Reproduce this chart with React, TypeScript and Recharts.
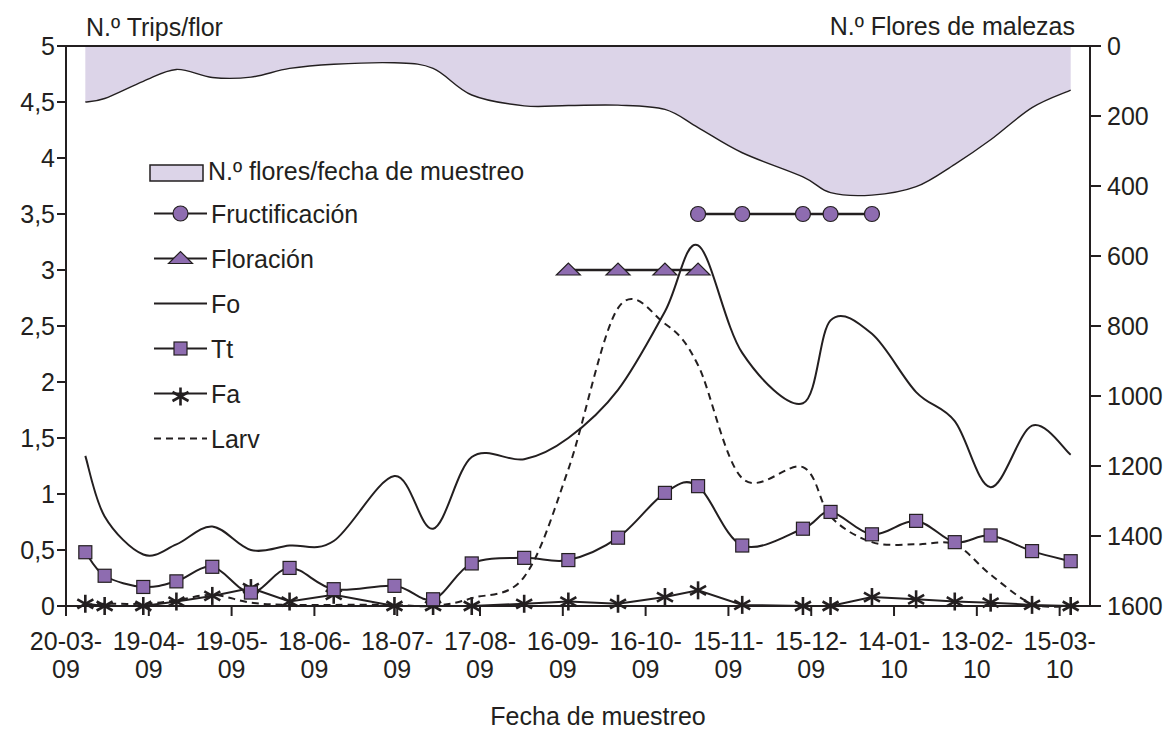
import React from 'react'
import {
  ComposedChart,
  Area,
  Line,
  XAxis,
  YAxis,
  ReferenceLine,
} from 'recharts'

const INK = '#231f20'
const PURPLE = '#8e6cb0'
const LAVENDER = '#dcd4e8'
const FONT = '"Liberation Sans", Arial, Helvetica, sans-serif'

// fechas de muestreo (dd-mm-yy)
const sampleDates = [
  '27-03-09', '03-04-09', '17-04-09', '29-04-09', '12-05-09', '26-05-09', '09-06-09',
  '25-06-09', '17-07-09', '31-07-09', '14-08-09', '02-09-09', '18-09-09', '06-10-09',
  '23-10-09', '04-11-09', '20-11-09', '12-12-09', '22-12-09', '06-01-10', '22-01-10',
  '05-02-10', '18-02-10', '05-03-10', '19-03-10',
]

const tickLabels = [
  '20-03-09', '19-04-09', '19-05-09', '18-06-09', '18-07-09', '17-08-09', '16-09-09',
  '16-10-09', '15-11-09', '15-12-09', '14-01-10', '13-02-10', '15-03-10',
]

const flores = [160, 150, 101, 67, 90, 89, 64, 52, 48, 64, 140, 171, 170, 169, 181, 233, 305, 374, 419, 426, 402, 338, 268, 176, 126]
const fo = [1.34, 0.8, 0.46, 0.55, 0.71, 0.5, 0.54, 0.58, 1.16, 0.69, 1.33, 1.31, 1.5, 1.93, 2.63, 3.22, 2.26, 1.81, 2.55, 2.43, 1.91, 1.65, 1.06, 1.61, 1.35]
const tt = [0.48, 0.27, 0.17, 0.22, 0.35, 0.12, 0.34, 0.15, 0.18, 0.06, 0.38, 0.43, 0.41, 0.61, 1.01, 1.07, 0.54, 0.69, 0.84, 0.64, 0.76, 0.57, 0.63, 0.49, 0.4]
const fa = [0.02, 0, 0, 0.04, 0.09, 0.16, 0.04, 0.1, 0, 0, 0, 0.02, 0.04, 0.02, 0.08, 0.14, 0.01, 0, 0, 0.08, 0.06, 0.04, 0.03, 0.01, 0]
const larv = [0.01, 0.02, 0.02, 0.05, 0.1, 0.03, 0.01, 0.01, 0.01, 0, 0.07, 0.26, 1.22, 2.66, 2.52, 2.15, 1.14, 1.24, 0.8, 0.57, 0.55, 0.55, 0.28, 0.02, 0]
// fenología: fechas con floración / fructificación
const floracion = ['18-09-09', '06-10-09', '23-10-09', '04-11-09']
const fructificacion = ['04-11-09', '20-11-09', '12-12-09', '22-12-09', '06-01-10']
const FLOR_Y = 3
const FRUCT_Y = 3.5

const leftTicks = [0, 0.5, 1, 1.5, 2, 2.5, 3, 3.5, 4, 4.5, 5]
const rightTicks = [0, 200, 400, 600, 800, 1000, 1200, 1400, 1600]

const START = '20-03-09'
const toDay = (s: string) => {
  const [d, m, y] = s.split('-').map(Number)
  const [d0, m0, y0] = START.split('-').map(Number)
  return Math.round((Date.UTC(2000 + y, m - 1, d) - Date.UTC(2000 + y0, m0 - 1, d0)) / 86400000)
}

const rows = sampleDates.map((s, i) => ({
  day: toDay(s),
  flores: flores[i],
  fo: fo[i],
  tt: tt[i],
  fa: fa[i],
  larv: larv[i],
  flor: floracion.includes(s) ? FLOR_Y : null,
  fruct: fructificacion.includes(s) ? FRUCT_Y : null,
}))

const tickDays = tickLabels.map(toDay)

// suavizado tipo Excel (Catmull-Rom)
function excelCurve(context: any) {
  let pts: number[][] = []
  let flag = NaN
  return {
    areaStart() { flag = 0 },
    areaEnd() { flag = NaN },
    lineStart() { pts = [] },
    point(x: number, y: number) { pts.push([+x, +y]) },
    lineEnd() {
      const n = pts.length
      if (n) {
        if (flag) context.lineTo(pts[0][0], pts[0][1])
        else context.moveTo(pts[0][0], pts[0][1])
        for (let i = 0; i < n - 1; i++) {
          const p0 = pts[i > 0 ? i - 1 : i]
          const p1 = pts[i]
          const p2 = pts[i + 1]
          const p3 = pts[i + 2 < n ? i + 2 : i + 1]
          context.bezierCurveTo(
            p1[0] + (p2[0] - p0[0]) / 6, p1[1] + (p2[1] - p0[1]) / 6,
            p2[0] - (p3[0] - p1[0]) / 6, p2[1] - (p3[1] - p1[1]) / 6,
            p2[0], p2[1],
          )
        }
      }
      if (flag) context.closePath()
      flag = 1 - flag
    },
  }
}

const Square = ({ cx, cy, s = 13 }: any) => (
  <rect x={cx - s / 2} y={cy - s / 2} width={s} height={s} fill={PURPLE} stroke={INK} strokeWidth={1.2} />
)
const Circ = ({ cx, cy }: any) => <circle cx={cx} cy={cy} r={7.5} fill={PURPLE} stroke={INK} strokeWidth={1.2} />
const Tri = ({ cx, cy }: any) => (
  <path d={`M${cx - 12},${cy + 5} L${cx},${cy - 7} L${cx + 12},${cy + 5} Z`} fill={PURPLE} stroke={INK} strokeWidth={1.2} />
)
const Star = ({ cx, cy }: any) => (
  <g stroke={INK} strokeWidth={2.6}>
    <line x1={cx} y1={cy - 9} x2={cx} y2={cy + 9} />
    <line x1={cx - 8} y1={cy - 4.5} x2={cx + 8} y2={cy + 4.5} />
    <line x1={cx - 8} y1={cy + 4.5} x2={cx + 8} y2={cy - 4.5} />
  </g>
)

const dotOf = (Shape: any) => (props: any) => {
  const { cx, cy, value, index } = props
  if (cx == null || cy == null || value == null) return <g key={`e-${index}`} />
  return <Shape key={`d-${index}`} cx={cx} cy={cy} />
}

const DateTick = ({ x, y, payload }: any) => {
  const i = tickDays.indexOf(payload.value)
  const label = tickLabels[i] ?? ''
  const top = label.slice(0, 6)
  const bottom = label.slice(6)
  return (
    <text x={x} y={y} textAnchor="middle" fontSize={25} fill={INK} fontFamily={FONT}>
      <tspan x={x} dy={32}>{top}</tspan>
      <tspan x={x} dy={28}>{bottom}</tspan>
    </text>
  )
}

const legendItems = [
  { name: 'N.º flores/fecha de muestreo', kind: 'area' },
  { name: 'Fructificación', kind: 'circle' },
  { name: 'Floración', kind: 'tri' },
  { name: 'Fo', kind: 'line' },
  { name: 'Tt', kind: 'square' },
  { name: 'Fa', kind: 'star' },
  { name: 'Larv', kind: 'dash' },
]

function LegendOverlay() {
  return (
    <svg width={1170} height={731} style={{ position: 'absolute', left: 0, top: 0, pointerEvents: 'none' }} fontFamily={FONT}>
      <text x={86} y={36} fontSize={25} fill={INK}>N.º Trips/flor</text>
      <text x={1075} y={35} fontSize={25} fill={INK} textAnchor="end">N.º Flores de malezas</text>
      <text x={598} y={725} fontSize={25} fill={INK} textAnchor="middle">Fecha de muestreo</text>
      {legendItems.map((it, i) => {
        if (it.kind === 'area') {
          return (
            <g key={it.name}>
              <rect x={150} y={165} width={53} height={16} fill={LAVENDER} stroke={INK} strokeWidth={1.5} />
              <text x={208} y={180} fontSize={25} fill={INK}>{it.name}</text>
            </g>
          )
        }
        const ly = 213.5 + (i - 1) * 45
        const cx = 180.5
        return (
          <g key={it.name}>
            <line x1={154} x2={207} y1={ly} y2={ly} stroke={INK} strokeWidth={2} strokeDasharray={it.kind === 'dash' ? '7 5' : undefined} />
            {it.kind === 'circle' && <Circ cx={cx} cy={ly} />}
            {it.kind === 'tri' && <Tri cx={cx} cy={ly} />}
            {it.kind === 'square' && <Square cx={cx} cy={ly} />}
            {it.kind === 'star' && <Star cx={cx} cy={ly + 3} />}
            <text x={211} y={ly + 9} fontSize={25} fill={INK}>{it.name}</text>
          </g>
        )
      })}
    </svg>
  )
}

export default function App() {
  const axisStyle = { stroke: INK, strokeWidth: 2 }
  return (
    <div style={{ position: 'absolute', left: 0, top: 0, width: 1170, height: 731, background: '#fff', fontFamily: FONT }}>
      <ComposedChart
        width={1170}
        height={731}
        data={rows}
        margin={{ top: 46, right: 0, bottom: 0, left: 0 }}
        style={{ fontFamily: FONT }}
      >
        <XAxis
          dataKey="day"
          type="number"
          domain={[0, 371]}
          ticks={tickDays}
          interval={0}
          tick={<DateTick />}
          tickSize={10}
          tickMargin={2}
          height={125}
          axisLine={axisStyle}
          tickLine={axisStyle}
          allowDataOverflow
        />
        <YAxis
          yAxisId="left"
          domain={[0, 5]}
          ticks={leftTicks}
          interval={0}
          width={66}
          tickSize={9}
          tickMargin={2}
          axisLine={axisStyle}
          tickLine={axisStyle}
          tick={{ fontSize: 25, fill: INK }}
          tickFormatter={(v: number) => String(v).replace('.', ',')}
        />
        <YAxis
          yAxisId="right"
          orientation="right"
          reversed
          domain={[0, 1600]}
          ticks={rightTicks}
          interval={0}
          width={80}
          tickSize={11}
          tickMargin={6}
          axisLine={axisStyle}
          tickLine={axisStyle}
          tick={{ fontSize: 25, fill: INK }}
        />
        <Area
          yAxisId="right"
          dataKey="flores"
          type={excelCurve as any}
          baseValue={0}
          fill={LAVENDER}
          fillOpacity={1}
          stroke={INK}
          strokeWidth={1.4}
          dot={false}
          activeDot={false}
          isAnimationActive={false}
        />
        <ReferenceLine yAxisId="left" y={5} stroke={INK} strokeWidth={2} />
        <Line yAxisId="left" dataKey="larv" type={excelCurve as any} stroke={INK} strokeWidth={2} strokeDasharray="7 5" dot={false} activeDot={false} isAnimationActive={false} />
        <Line yAxisId="left" dataKey="fo" type={excelCurve as any} stroke={INK} strokeWidth={2} dot={false} activeDot={false} isAnimationActive={false} />
        <Line yAxisId="left" dataKey="fa" type="linear" stroke={INK} strokeWidth={2} dot={dotOf(Star)} activeDot={false} isAnimationActive={false} />
        <Line yAxisId="left" dataKey="tt" type={excelCurve as any} stroke={INK} strokeWidth={2} dot={dotOf(Square)} activeDot={false} isAnimationActive={false} />
        <Line yAxisId="left" dataKey="flor" type="linear" stroke={INK} strokeWidth={2.5} dot={dotOf(Tri)} activeDot={false} isAnimationActive={false} />
        <Line yAxisId="left" dataKey="fruct" type="linear" stroke={INK} strokeWidth={2.5} dot={dotOf(Circ)} activeDot={false} isAnimationActive={false} />
      </ComposedChart>
      <LegendOverlay />
    </div>
  )
}
